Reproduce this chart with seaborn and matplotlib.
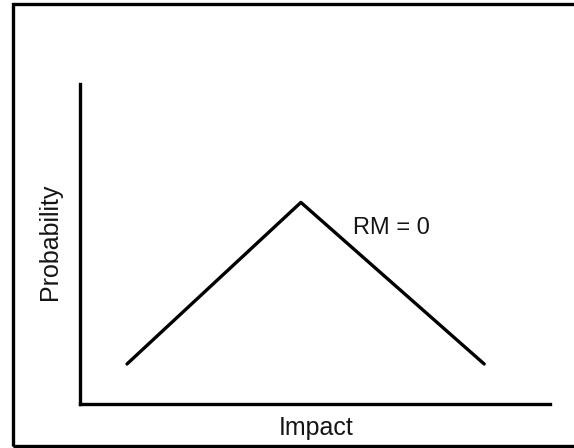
import matplotlib
matplotlib.use("Agg")
import matplotlib.pyplot as plt
from matplotlib.patches import Rectangle
import seaborn as sns
import pandas as pd

# Risk profile: probability against impact, no risk management applied
impact = [1.0, 4.7, 8.6]
probability = [1.25, 6.3, 1.25]
curve_label = "RM = 0"
label_x, label_y = 5.8, 5.5
x_title = "Impact"
y_title = "Probability"

df = pd.DataFrame({"Impact": impact, "Probability": probability})

sns.set_theme(style="white")
plt.rcParams["font.family"] = ["Liberation Sans", "DejaVu Sans"]

fig = plt.figure(figsize=(5.74, 4.48), dpi=100)
ax = fig.add_axes([80 / 574, 44 / 448, 470 / 574, 320 / 448])

sns.lineplot(data=df, x="Impact", y="Probability", ax=ax, color="black",
             linewidth=2.4, sort=False, estimator=None)

ax.set_xlim(0, 10)
ax.set_ylim(0, 10)
ax.set_xticks([])
ax.set_yticks([])
for side in ("top", "right"):
    ax.spines[side].set_visible(False)
for side in ("left", "bottom"):
    ax.spines[side].set_color("black")
    ax.spines[side].set_linewidth(2.4)

ax.text(label_x, label_y, curve_label, fontsize=17, color="#151515",
        ha="left", va="center")

ax.set_xlabel(x_title, fontsize=18, color="#151515")
ax.set_ylabel(y_title, fontsize=18, color="#151515")
ax.xaxis.set_label_coords((316 - 80) / 470, (404 - 428) / 320)
ax.xaxis.label.set_va("center")
ax.yaxis.set_label_coords((50 - 80) / 470, (404 - 242) / 320)
ax.yaxis.label.set_va("center")

# Outer frame around the drawing
frame = Rectangle((12.5 / 574, 2.5 / 448), 1.1, (441.5) / 448,
                  transform=fig.transFigure, fill=False,
                  edgecolor="black", linewidth=2.4, clip_on=False)
fig.patches.append(frame)

fig.savefig("out.png", dpi=100)
